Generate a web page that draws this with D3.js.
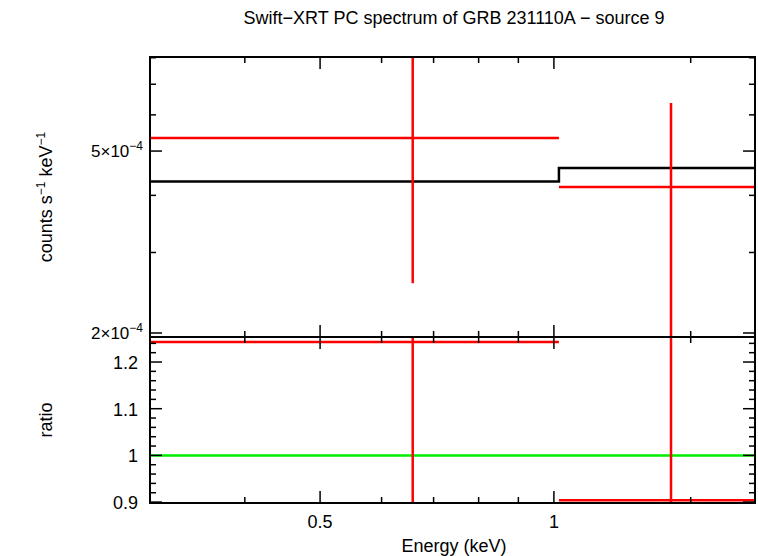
<!DOCTYPE html>
<html><head><meta charset="utf-8">
<script src="https://cdn.jsdelivr.net/npm/d3@7"></script>
<style>body{margin:0;background:#fff}text{font-family:"Liberation Sans",Arial,sans-serif;fill:#000}</style>
</head><body><div id="chart"></div>
<script>
// data
var binLo = [0.30, 1.015];
var binHi = [1.015, 1.85];
var binMid = [0.658, 1.415];
var rate = [5.34e-4, 4.17e-4];
var rateLo = [2.57e-4, 1.5e-4];
var rateHi = [9e-4, 6.37e-4];
var model = [4.29e-4, 4.59e-4];
var ratio = [1.243, 0.904];
var ratioLo = [0.8, 0.8];
var ratioHi = [1.3, 1.3];

var svg = d3.select("#chart").append("svg").attr("width", 758).attr("height", 556);
var L = 150, R = 755, T = 57, M = 337, B = 503;

var x = d3.scaleLog().domain([0.302, 1.815]).range([L, R]);
var yTop = d3.scaleLog().domain([1.96e-4, 8.03e-4]).range([M, T]);
var yBot = d3.scaleLinear().domain([0.898, 1.2536]).range([B, M]);

svg.append("defs").append("clipPath").attr("id", "c1").append("rect").attr("x", L).attr("y", T).attr("width", R - L).attr("height", M - T);
svg.select("defs").append("clipPath").attr("id", "c2").append("rect").attr("x", L).attr("y", M).attr("width", R - L).attr("height", B - M);

var g1 = svg.append("g").attr("clip-path", "url(#c1)");
var g2 = svg.append("g").attr("clip-path", "url(#c2)");

// model step
var mline = d3.line().curve(d3.curveStepAfter).x(d => x(d[0])).y(d => yTop(d[1]));
g1.append("path").attr("d", mline([[binLo[0], model[0]], [binLo[1], model[1]], [binHi[1], model[1]]]))
  .attr("fill", "none").attr("stroke", "#000").attr("stroke-width", 2.5);

function errs(g, y, val, lo, hi) {
  binMid.forEach(function (m, i) {
    g.append("line").attr("x1", x(binLo[i])).attr("x2", x(binHi[i])).attr("y1", y(val[i])).attr("y2", y(val[i]))
      .attr("stroke", "#f00").attr("stroke-width", 2.5);
    g.append("line").attr("x1", x(m)).attr("x2", x(m)).attr("y1", y(lo[i])).attr("y2", y(hi[i]))
      .attr("stroke", "#f00").attr("stroke-width", 2.5);
  });
}
errs(g1, yTop, rate, rateLo, rateHi);
g2.append("line").attr("x1", L).attr("x2", R).attr("y1", yBot(1)).attr("y2", yBot(1)).attr("stroke", "#0e0").attr("stroke-width", 2.5);
errs(g2, yBot, ratio, ratioLo, ratioHi);

// frames
[[T, M], [M, B]].forEach(function (p) {
  svg.append("rect").attr("x", L).attr("y", p[0]).attr("width", R - L).attr("height", p[1] - p[0])
    .attr("fill", "none").attr("stroke", "#000").attr("stroke-width", 2);
});

function tick(x1, y1, x2, y2) {
  svg.append("line").attr("x1", x1).attr("y1", y1).attr("x2", x2).attr("y2", y2).attr("stroke", "#000").attr("stroke-width", 1.5);
}
// x ticks
var xMajor = [0.5, 1];
var xMinor = [0.4, 0.6, 0.7, 0.8, 0.9, 1.5];
[[T, M], [M, B]].forEach(function (p) {
  xMajor.forEach(v => { tick(x(v), p[1], x(v), p[1] - 12); tick(x(v), p[0], x(v), p[0] + 12); });
  xMinor.forEach(v => { tick(x(v), p[1], x(v), p[1] - 6); tick(x(v), p[0], x(v), p[0] + 6); });
});
// top y ticks
var yTopMajor = [2e-4, 5e-4];
var yTopMinor = [3e-4, 4e-4, 6e-4, 7e-4, 8e-4];
yTopMajor.forEach(v => { tick(L, yTop(v), L + 12, yTop(v)); tick(R, yTop(v), R - 12, yTop(v)); });
yTopMinor.forEach(v => { tick(L, yTop(v), L + 6, yTop(v)); tick(R, yTop(v), R - 6, yTop(v)); });
// ratio ticks
var rMajor = [0.9, 1, 1.1, 1.2];
d3.range(0.9, 1.26, 0.02).forEach(function (v) {
  var major = rMajor.some(m => Math.abs(m - v) < 1e-6);
  var len = major ? 12 : 6;
  tick(L, yBot(v), L + len, yBot(v)); tick(R, yBot(v), R - len, yBot(v));
});

// labels
function txt(xv, yv, anchor, size) {
  return svg.append("text").attr("x", xv).attr("y", yv).attr("text-anchor", anchor).style("font-size", size + "px");
}
function sci(yv, m, e) {
  var t = txt(143, yv + 6, "end", 17);
  t.append("tspan").text(m + "\u00d710");
  t.append("tspan").attr("dy", -7).style("font-size", "12px").text("\u2212" + e);
}
sci(yTop(5e-4), 5, 4);
sci(yTop(2e-4), 2, 4);
rMajor.forEach(v => txt(138, yBot(v) + 7, "end", 18).text(v === 1 ? "1" : v.toFixed(1)));
xMajor.forEach(v => txt(x(v), 528, "middle", 18).text(String(v)));

txt(454, 552, "middle", 18).text("Energy (keV)");
txt(454, 24, "middle", 18).text("Swift\u2212XRT PC spectrum of GRB 231110A \u2212 source 9");
svg.append("text").attr("transform", "translate(52,420) rotate(-90)").attr("text-anchor", "middle").style("font-size", "18px").text("ratio");
var yl = svg.append("text").attr("transform", "translate(52,197) rotate(-90)").attr("text-anchor", "middle").style("font-size", "18px");
yl.append("tspan").text("counts s");
yl.append("tspan").attr("dy", -7).style("font-size", "12px").text("\u22121");
yl.append("tspan").attr("dy", 7).text(" keV");
yl.append("tspan").attr("dy", -7).style("font-size", "12px").text("\u22121");
</script></body></html>
